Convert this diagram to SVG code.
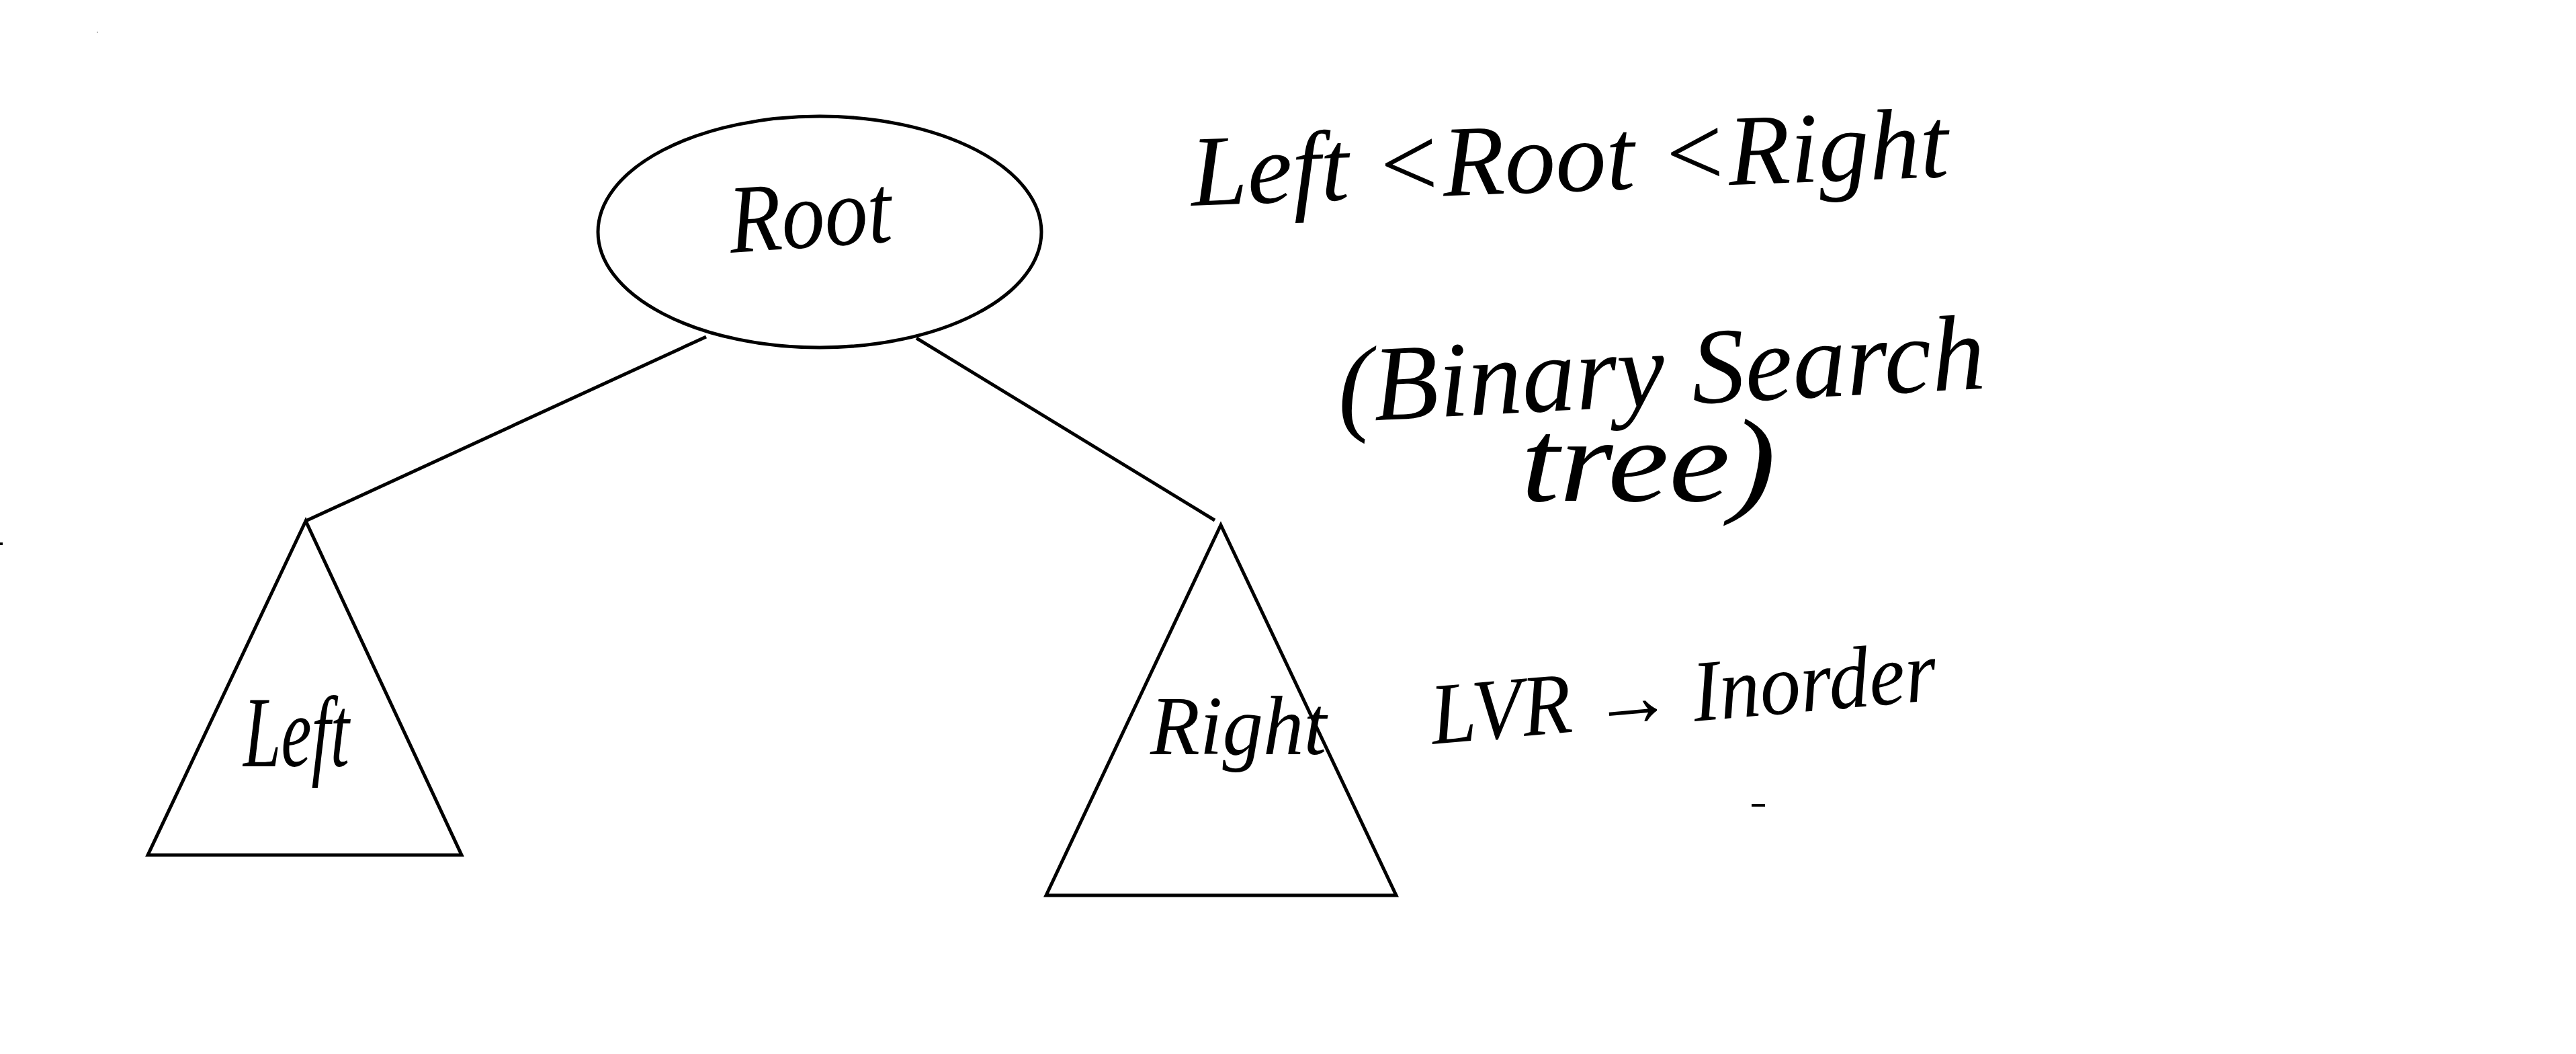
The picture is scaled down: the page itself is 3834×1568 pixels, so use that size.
<svg xmlns="http://www.w3.org/2000/svg" width="3834" height="1568" viewBox="0 0 3834 1568">
<style>
.shape{fill:none;stroke:#000;stroke-width:5;stroke-linejoin:miter}
.edge{fill:none;stroke:#000;stroke-width:5;stroke-linecap:butt}
.hand{font-family:"Liberation Serif","DejaVu Serif",serif;font-style:italic;fill:#000}
</style>
<rect width="3834" height="1568" fill="#fff"/>
<g id="connectors">
<line class="edge" x1="1051" y1="501" x2="455" y2="775"/>
<line class="edge" x1="1364" y1="503" x2="1808" y2="774"/>
</g>
<g id="node-root">
<ellipse class="shape" cx="1220" cy="345" rx="330" ry="172"/>
<text class="hand" x="1088" y="376" font-size="145" textLength="242" lengthAdjust="spacingAndGlyphs" transform="rotate(-4 1088 376)">Root</text>
</g>
<g id="node-left">
<polygon class="shape" points="455,775 220,1272 687,1272"/>
<text class="hand" x="362" y="1140" font-size="150" textLength="158" lengthAdjust="spacingAndGlyphs">Left</text>
</g>
<g id="node-right">
<polygon class="shape" points="1817,781 1557,1332 2078,1332"/>
<text class="hand" x="1712" y="1122" font-size="125" textLength="262" lengthAdjust="spacingAndGlyphs">Right</text>
</g>
<g id="notes">
<text class="hand" x="1774" y="306" font-size="150" textLength="1128" lengthAdjust="spacingAndGlyphs" transform="rotate(-2.2 1774 306)">Left &lt;Root &lt;Right</text>
<text class="hand" x="1993" y="628" font-size="160" textLength="965" lengthAdjust="spacingAndGlyphs" transform="rotate(-3 1993 628)">(Binary Search</text>
<text class="hand" x="2264" y="745" font-size="175" textLength="379" lengthAdjust="spacingAndGlyphs">tree)</text>
<text class="hand" x="2133" y="1107" font-size="130" textLength="755" lengthAdjust="spacingAndGlyphs" transform="rotate(-5 2133 1107)">LVR → Inorder</text>
<line x1="2607" y1="1198" x2="2627" y2="1198" stroke="#000" stroke-width="4"/>
<rect x="0" y="807" width="4" height="4" fill="#000"/>
<rect x="144" y="47" width="2" height="2" fill="#bbb"/>
</g>
</svg>
